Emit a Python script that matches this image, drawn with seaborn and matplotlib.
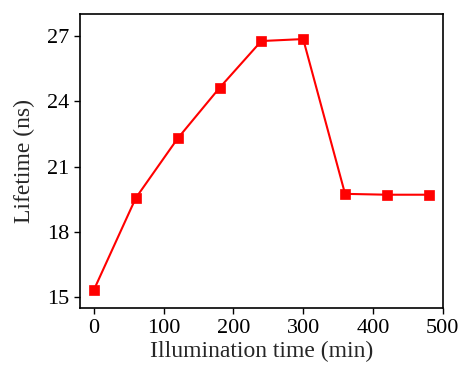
import matplotlib
matplotlib.use("Agg")
import matplotlib.pyplot as plt
import pandas as pd
import seaborn as sns

time_min = [0, 60, 120, 180, 240, 300, 360, 420, 480]
lifetime_ns = [15.35, 19.56, 22.29, 24.61, 26.76, 26.85, 19.75, 19.71, 19.71]

df = pd.DataFrame({"time": time_min, "lifetime": lifetime_ns})

sns.set_style("ticks")
plt.rcParams["font.family"] = ["Liberation Serif", "DejaVu Serif"]

fig = plt.figure(figsize=(4.61, 3.70), dpi=100)
ax = fig.add_axes([80 / 461, 1 - 308.3 / 370, 362.7 / 461, 294.3 / 370])

sns.lineplot(data=df, x="time", y="lifetime", ax=ax, color="#ff0000",
             linewidth=1.5, marker="s", markersize=7.5,
             markeredgecolor="#ff0000", markeredgewidth=0.5)

ax.set_xlim(-20, 500)
ax.set_ylim(14.5, 28)
ax.set_xticks([0, 100, 200, 300, 400, 500])
ax.set_yticks([15, 18, 21, 24, 27])
ax.tick_params(direction="out", length=4.5, width=1, labelsize=16, colors="black", pad=3)
for s in ax.spines.values():
    s.set_visible(True)
    s.set_linewidth(1.2)
    s.set_color("black")

ax.set_xlabel("Illumination time (min)", fontsize=17, labelpad=2)
ax.set_ylabel("Lifetime (ns)", fontsize=17, labelpad=9)

fig.savefig("out.png", dpi=100)
